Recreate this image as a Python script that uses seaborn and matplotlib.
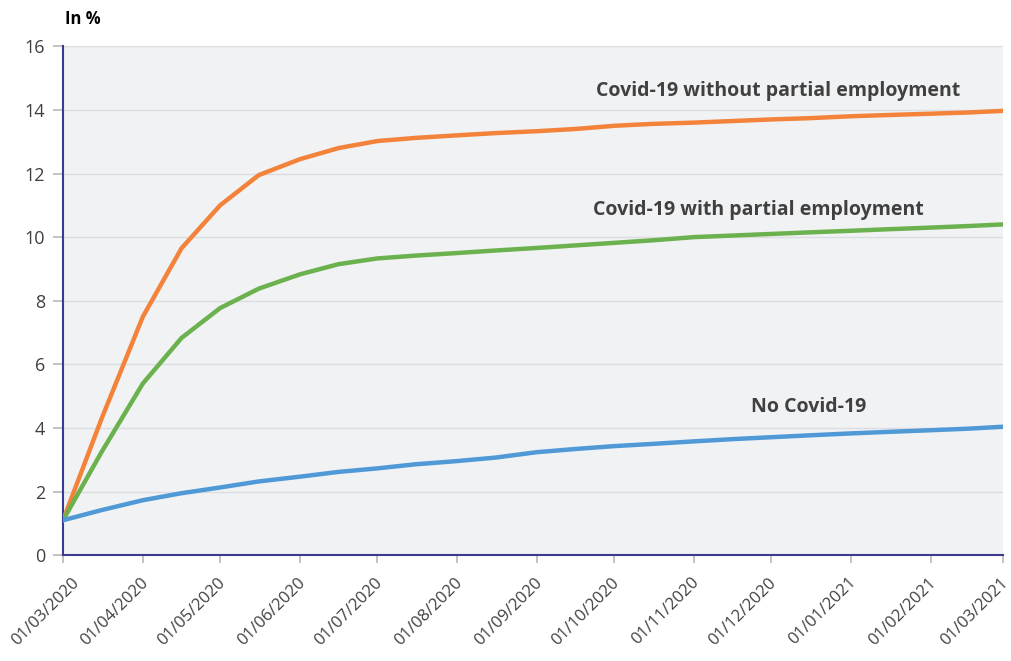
import matplotlib
matplotlib.use("Agg")
import matplotlib.dates as mdates
import matplotlib.pyplot as plt
import matplotlib.transforms as mtransforms
import pandas as pd
import seaborn as sns

# half-monthly observation dates
dates = pd.to_datetime([
    "2020-03-01", "2020-03-16", "2020-04-01", "2020-04-16", "2020-05-01",
    "2020-05-16", "2020-06-01", "2020-06-16", "2020-07-01", "2020-07-16",
    "2020-08-01", "2020-08-16", "2020-09-01", "2020-09-16", "2020-10-01",
    "2020-10-16", "2020-11-01", "2020-11-16", "2020-12-01", "2020-12-16",
    "2021-01-01", "2021-01-16", "2021-02-01", "2021-02-16", "2021-03-01",
])

without_partial = [1.1, 4.3, 7.5, 9.65, 11.0, 11.95, 12.45, 12.8, 13.02, 13.12,
                   13.2, 13.27, 13.33, 13.4, 13.5, 13.56, 13.6, 13.65, 13.7, 13.74,
                   13.8, 13.84, 13.88, 13.92, 13.97]
with_partial = [1.1, 3.25, 5.4, 6.83, 7.77, 8.38, 8.83, 9.15, 9.33, 9.42,
                9.5, 9.58, 9.66, 9.74, 9.82, 9.9, 10.0, 10.05, 10.1, 10.15,
                10.2, 10.25, 10.3, 10.35, 10.4]
no_covid = [1.1, 1.42, 1.73, 1.95, 2.13, 2.32, 2.47, 2.62, 2.73, 2.86,
            2.96, 3.07, 3.24, 3.34, 3.43, 3.5, 3.58, 3.65, 3.71, 3.77,
            3.83, 3.88, 3.93, 3.98, 4.04]

series_names = ["Covid-19 without partial employment",
                "Covid-19 with partial employment",
                "No Covid-19"]
colors = ["#f3833b", "#6bb24f", "#4f9ad6"]

df = pd.concat([
    pd.DataFrame({"date": dates, "value": vals, "scenario": name})
    for name, vals in zip(series_names, [without_partial, with_partial, no_covid])
])

sns.set_theme(style="white")
plt.rcParams["font.family"] = ["Open Sans", "DejaVu Sans"]

fig = plt.figure(figsize=(10.12, 6.61), dpi=100)
ax = fig.add_axes([0.0623, 0.160, 0.9287, 0.770])
ax.set_facecolor("#f1f2f4")

sns.lineplot(data=df, x="date", y="value", hue="scenario",
             palette=dict(zip(series_names, colors)), linewidth=3.2,
             legend=False, ax=ax, zorder=3)

ax.set_xlim(dates[0], dates[-1])
ax.set_ylim(0, 16)
ax.set_yticks(range(0, 17, 2))
ax.xaxis.set_major_locator(mdates.MonthLocator())
ax.xaxis.set_major_formatter(mdates.DateFormatter("%d/%m/%Y"))
ax.grid(axis="y", color="#dcdde1", linewidth=1)
ax.set_axisbelow(True)

for side in ["top", "right"]:
    ax.spines[side].set_visible(False)
for side in ["left", "bottom"]:
    ax.spines[side].set_color("#3b3a8f")
    ax.spines[side].set_linewidth(1.5)

ax.tick_params(axis="y", length=7, color="#bbbbbb", labelsize=13,
               labelcolor="#404040", pad=6, left=True)
ax.tick_params(axis="x", length=6, color="#bbbbbb", labelsize=12,
               labelcolor="#404040", pad=12, bottom=True)
fig.canvas.draw()
xlabels = ax.get_xticklabels()
for i, lbl in enumerate(xlabels):
    # the first label sits a bit further right so it stays inside the figure
    dx = 0.14 if i == 0 else 0.03
    lbl.set_rotation(45)
    lbl.set_ha("right")
    lbl.set_va("center")
    lbl.set_rotation_mode("anchor")
    lbl.set_transform(lbl.get_transform()
                      + mtransforms.ScaledTranslation(dx, 0, fig.dpi_scale_trans))
ax.set_xlabel("")
ax.set_ylabel("")

label_pos = [(pd.Timestamp("2020-09-24"), 14.6),
             (pd.Timestamp("2020-09-23"), 10.85),
             (pd.Timestamp("2020-11-23"), 4.65)]
for name, (x, y) in zip(series_names, label_pos):
    ax.text(x, y, name, fontsize=14, fontweight="bold", color="#404040",
            va="center", ha="left")

fig.text(0.064, 0.972, "In %", fontsize=12, fontweight="bold", color="black",
         va="center", ha="left")

fig.savefig("out.png", dpi=100)
